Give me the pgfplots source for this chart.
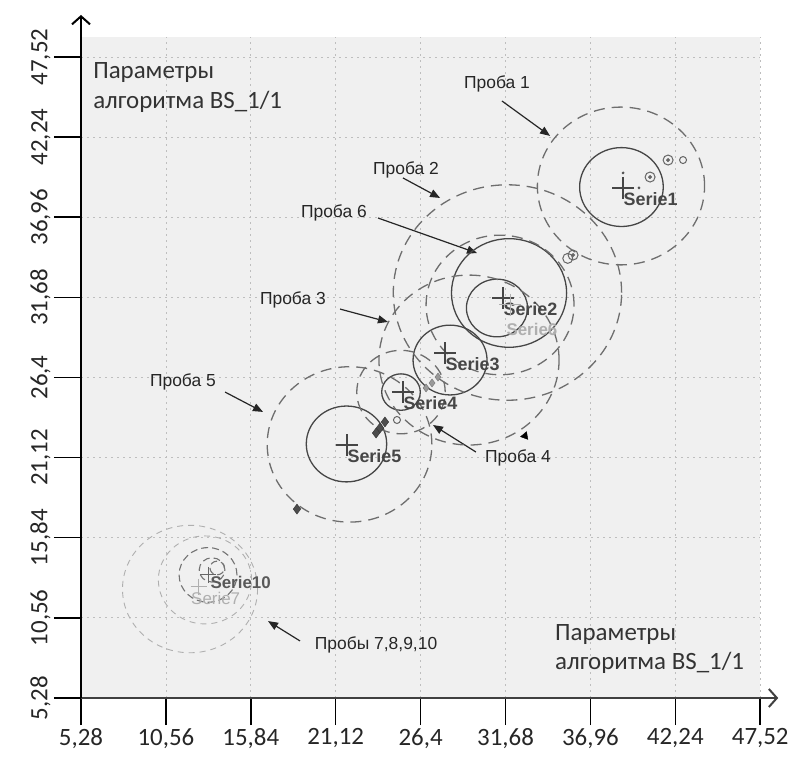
\documentclass[border=0pt]{standalone}
\usepackage{fontspec}
\setmainfont{Carlito}
\newfontfamily\annot{Liberation Sans}
\usepackage{pgfplots}
\pgfplotsset{compat=1.18}
\usepackage{pgfplotstable}
\usetikzlibrary{arrows.meta}

\definecolor{bg}{RGB}{240,240,240}
\definecolor{cdark}{RGB}{70,70,70}
\definecolor{cmid}{RGB}{110,110,110}
\definecolor{clight}{RGB}{175,175,175}
\definecolor{cgrid}{RGB}{190,190,190}

% ring mark: radius given in data units (x: 16.08bp, y: 15.175bp per unit)
\pgfdeclareplotmark{ring}{%
  \pgfpathellipse{\pgfpointorigin}{\pgfqpoint{16.14\pgfplotmarksize}{0pt}}{\pgfqpoint{0pt}{15.23\pgfplotmarksize}}%
  \pgfusepathqstroke}

\pgfplotstableread{
x y r
38.89 38.95 2.6
31.90 31.97 3.58
31.15 30.98 1.9
28.23 27.55 2.3
25.18 25.44 1.2
21.79 22.02 2.5
}\solidcircles

\pgfplotstableread{
x y r
38.86 39.02 5.2
31.80 32.00 7.1
31.34 31.18 4.6
29.41 27.55 5.6
25.18 25.44 2.75
21.98 21.99 5.12
}\dashedcircles

\pgfplotstableread{
x y r
12.06 12.46 4.2
12.99 13.06 2.9
}\lightcircles

\pgfplotstableread{
x y r
13.18 13.39 1.8
13.43 13.72 0.8
13.75 13.85 0.45
}\smallcircles

\pgfplotstableread{
x y label
38.99 38.89 Serie1
31.52 31.64 Serie2
27.92 28.01 Serie3
25.30 25.44 Serie4
21.82 21.95 Serie5
}\crosses

\begin{document}
\begin{tikzpicture}
\begin{axis}[
  x=16.08bp, y=15.175bp,
  xmin=5.28, xmax=47.52, ymin=5.28, ymax=48.84,
  axis x line=bottom, axis y line=left,
  axis background/.style={fill=bg},
  xtick={5.28,10.56,15.84,21.12,26.4,31.68,36.96,42.24,47.52},
  ytick={5.28,10.56,15.84,21.12,26.4,31.68,36.96,42.24,47.52},
  tick align=outside, major tick length=27bp,
  tick style={black, line width=1.5bp},
  grid=major,
  grid style={cgrid, line width=0.8bp, dash pattern=on 2bp off 4bp},
  x axis line style={line width=2.5bp, draw=black!75, -{Straight Barb[length=8bp,width=18bp,line width=2bp]}, shorten >=-18bp},
  y axis line style={line width=1.8bp, draw=black, -{Straight Barb[length=8bp,width=18bp,line width=2bp]}, shorten >=-22bp},
  ticklabel style={font=\fontsize{25}{30}\selectfont, text=black!85},
  yticklabel style={rotate=90, anchor=south},
  /pgf/number format/.cd, use comma, precision=2, assume math mode=true,
  /pgfplots/.cd,
  clip=false,
]
% solid circles
\addplot[only marks, scatter, mark=ring, line width=1.3bp,
  scatter/use mapped color={draw=cdark},
  mark options={solid},
  visualization depends on={\thisrow{r} \as \rr},
  scatter/@pre marker code/.append style={/tikz/mark size=\rr}]
  table[x=x, y=y] {\solidcircles};
% dashed circles
\addplot[only marks, scatter, mark=ring, line width=1.3bp,
  scatter/use mapped color={draw=cmid},
  mark options={dash pattern=on 11bp off 7bp},
  visualization depends on={\thisrow{r} \as \rr},
  scatter/@pre marker code/.append style={/tikz/mark size=\rr}]
  table[x=x, y=y] {\dashedcircles};
% light circles (probes 7-10)
\addplot[only marks, scatter, mark=ring, line width=0.9bp,
  scatter/use mapped color={draw=clight},
  mark options={dash pattern=on 6bp off 5bp},
  visualization depends on={\thisrow{r} \as \rr},
  scatter/@pre marker code/.append style={/tikz/mark size=\rr}]
  table[x=x, y=y] {\lightcircles};
\addplot[only marks, scatter, mark=ring, line width=1.1bp,
  scatter/use mapped color={draw=black!55},
  mark options={dash pattern=on 7bp off 4bp},
  visualization depends on={\thisrow{r} \as \rr},
  scatter/@pre marker code/.append style={/tikz/mark size=\rr}]
  table[x=x, y=y] {\smallcircles};
% crosses with labels
\addplot[only marks, mark=+, mark size=11bp, draw=cdark, line width=1.2bp,
  nodes near coords, point meta=explicit symbolic,
  every node near coord/.append style={anchor=west, inner sep=0pt, yshift=-11bp,
    font=\annot\bfseries\fontsize{18}{21}\selectfont, text=cdark}]
  table[x=x, y=y, meta=label] {\crosses};
\addplot[only marks, mark=+, mark size=11bp, draw=clight, line width=1bp,
  nodes near coords, point meta=explicit symbolic,
  every node near coord/.append style={anchor=west, inner sep=0pt, yshift=-24bp, xshift=-4bp,
    font=\annot\bfseries\fontsize{17}{20}\selectfont, text=clight}]
  table[x=x, y=y, meta=label] {
x y label
31.96 31.18 Serie6
};
\addplot[only marks, mark=+, mark size=8bp, draw=clight, line width=1bp,
  nodes near coords, point meta=explicit symbolic,
  every node near coord/.append style={anchor=west, inner sep=0pt, yshift=-12bp, xshift=-8bp,
    font=\annot\fontsize{17}{20}\selectfont, text=clight}]
  table[x=x, y=y, meta=label] {
x y label
12.60 12.60 Serie7
};
\addplot[only marks, mark=+, mark size=8bp, draw=black!60, line width=1bp,
  nodes near coords, point meta=explicit symbolic,
  every node near coord/.append style={anchor=west, inner sep=0pt, yshift=-8bp, xshift=2bp,
    font=\annot\bfseries\fontsize{17}{20}\selectfont, text=black!65}]
  table[x=x, y=y, meta=label] {
x y label
13.18 13.40 Serie10
};
% dark sample markers
\addplot[only marks, mark=diamond*, mark size=5bp, draw=black!80, fill=black!70]
  coordinates {(23.87,23.07) (24.18,23.47) (23.63,22.74) (18.71,17.73)};
\addplot[only marks, mark=diamond*, mark size=4bp, draw=black!55, fill=black!40]
  coordinates {(27.11,26.04) (27.48,26.43) (26.74,25.71)};
% small concentric markers
\addplot[only marks, mark=o, mark size=5bp, draw=black!60, line width=1bp]
  coordinates {(40.67,39.61) (41.79,40.73) (35.88,34.47) (35.55,34.25)};
\addplot[only marks, mark=*, mark size=1.8bp, draw=black!60, fill=black!60]
  coordinates {(40.67,39.61) (41.79,40.73) (35.88,34.47)};
\addplot[only marks, mark=o, mark size=3.5bp, draw=black!60, line width=1bp]
  coordinates {(42.72,40.73) (24.93,23.60)};
\addplot[only marks, mark=*, mark size=1.2bp, draw=black!70, fill=black!70]
  coordinates {(38.99,39.88) (39.98,38.89)};
\addplot[only marks, mark=triangle*, mark size=4.5bp, black, mark options={rotate=100}]
  coordinates {(32.89,22.55)};

% annotations
\tikzset{ann/.style={draw=black!85, line width=1.2bp, -{Triangle[length=10bp,width=8bp]}},
         annt/.style={font=\annot\fontsize{17.5}{21}\selectfont, text=black!85}}
\draw[ann] (axis cs:31.46,44.62) -- (axis cs:34.45,42.32);
\node[annt] at (axis cs:31.15,45.74) {Проба 1};
\draw[ann] (axis cs:25.30,39.55) -- (axis cs:27.61,38.23);
\node[annt] at (axis cs:25.49,40.07) {Проба 2};
\draw[ann] (axis cs:23.75,36.91) -- (axis cs:29.91,34.60);
\node[annt] at (axis cs:21.01,37.24) {Проба 6};
\draw[ann] (axis cs:21.39,30.91) -- (axis cs:24.37,30.06);
\node[annt] at (axis cs:18.46,31.51) {Проба 3};
\draw[ann] (axis cs:14.24,25.44) -- (axis cs:16.60,24.13);
\node[annt] at (axis cs:11.62,26.10) {Проба 5};
\draw[ann] (axis cs:29.84,21.49) -- (axis cs:27.17,23.27);
\node[annt] at (axis cs:32.46,21.10) {Проба 4};
\draw[ann] (axis cs:18.90,9.04) -- (axis cs:16.91,10.35);
\node[annt] at (axis cs:23.63,8.77) {Пробы 7,8,9,10};
\node[anchor=west, align=left, inner sep=0pt, font=\fontsize{25}{30}\selectfont, text=black!80]
  at (axis cs:6.03,45.48) {Параметры\\алгоритма BS\_1/1};
\node[anchor=west, align=left, inner sep=0pt, font=\fontsize{25}{30}\selectfont, text=black!80]
  at (axis cs:34.76,8.51) {Параметры\\алгоритма BS\_1/1};
\end{axis}
\pgfresetboundingbox
\path[use as bounding box] ([xshift=-81bp,yshift=-62bp]current axis.south west) rectangle ([xshift=711bp,yshift=698bp]current axis.south west);
\end{tikzpicture}
\end{document}
